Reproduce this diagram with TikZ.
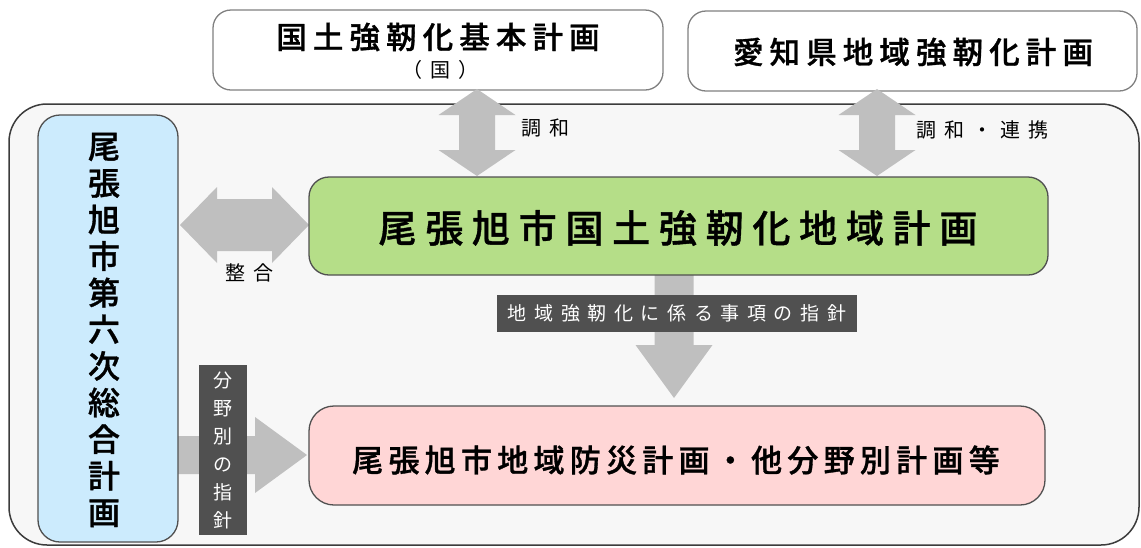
\documentclass[tikz,border=0pt]{standalone}
\usepackage{fontspec}
\newfontfamily\jp{Noto Sans CJK JP}
\newfontfamily\jpm[FakeBold=1]{Noto Sans CJK JP Medium}
\newfontfamily\jpwide[LetterSpace=20,FakeBold=1]{Noto Sans CJK JP Medium}
\newfontfamily\jpwidea[LetterSpace=23,FakeBold=1]{Noto Sans CJK JP Medium}
\newfontfamily\jpwideb[LetterSpace=17,FakeBold=1]{Noto Sans CJK JP Medium}
\newfontfamily\jplab[LetterSpace=40]{Noto Sans CJK JP}
\definecolor{framefill}{RGB}{247,247,247}
\definecolor{framedraw}{RGB}{60,60,60}
\definecolor{topdraw}{RGB}{128,128,128}
\definecolor{bluefill}{RGB}{204,235,253}
\definecolor{greenfill}{RGB}{181,222,136}
\definecolor{pinkfill}{RGB}{255,214,214}
\definecolor{boxdraw}{RGB}{80,80,80}
\definecolor{arrowgray}{RGB}{191,191,191}
\definecolor{labelfill}{RGB}{80,80,80}
\begin{document}
\begin{tikzpicture}[x=1pt,y=-1pt,
  topbox/.style={draw=topdraw,line width=1.3pt,fill=white,rounded corners=18pt,inner sep=0pt},
  framebox/.style={draw=framedraw,line width=1.5pt,fill=framefill,rounded corners=38pt,inner sep=0pt},
  planbox/.style={draw=boxdraw,line width=1.3pt,rounded corners=22pt,inner sep=0pt},
  darklabel/.style={fill=labelfill,text=white,inner sep=0pt},
  bigtext/.style={font=\fontsize{30.5}{30.5}\selectfont\jpwide},
  smalltext/.style={font=\fontsize{20}{20}\selectfont\jplab},
  blockarrow/.style={fill=arrowgray},
]
\useasboundingbox (0,0) rectangle (1141,547);

% outer frame
\node[framebox,minimum width=1130pt,minimum height=441pt] (frame) at (574,324.5) {};

% top boxes
\node[topbox,minimum width=450pt,minimum height=80pt] (kuni) at (438,50) {};
\node[bigtext] (kunitext) at (438,37) {国土強靭化基本計画};
\node[font=\fontsize{20}{20}\selectfont\jplab] (kunisub) at (440,70) {（国）};
\node[topbox,minimum width=449pt,minimum height=80pt] (aichi) at (912.5,51) {};
\node[bigtext] (aichitext) at (913,52) {愛知県地域強靭化計画};

% block arrows
\fill[blockarrow] (477,89) -- (515.5,115) -- (495,115) -- (495,150) -- (515.5,150) -- (477,176)
  -- (438.5,150) -- (459,150) -- (459,115) -- (438.5,115) -- cycle;
\fill[blockarrow] (877,89) -- (915.5,115) -- (895,115) -- (895,150) -- (915.5,150) -- (877,176)
  -- (838.5,150) -- (859,150) -- (859,115) -- (838.5,115) -- cycle;
\fill[blockarrow] (180,225) -- (217,187) -- (217,199) -- (272,199) -- (272,187) -- (309,225)
  -- (272,263) -- (272,251) -- (217,251) -- (217,263) -- cycle;
\fill[blockarrow] (654.5,270) -- (693.5,270) -- (693.5,345) -- (712.5,345) -- (674,398)
  -- (635.5,345) -- (654.5,345) -- cycle;
\fill[blockarrow] (175,436) -- (255,436) -- (255,417) -- (307,455) -- (255,493) -- (255,474)
  -- (175,474) -- cycle;

% arrow labels
\node[smalltext,anchor=west] (chowa) at (518,128) {調和};
\node[smalltext,anchor=west] (renkei) at (913,130) {調和・連携};
\node[smalltext] (seigo) at (249,273) {整合};

% plan boxes
\node[planbox,fill=bluefill,minimum width=140pt,minimum height=427pt] (sogo) at (108,328.5) {};
\node[font=\fontsize{32}{36.6}\selectfont\jpm,align=center] (sogotext) at (104,330)
  {尾\\張\\旭\\市\\第\\六\\次\\総\\合\\計\\画};
\node[planbox,fill=greenfill,rounded corners=20pt,minimum width=739pt,minimum height=98pt] (chiiki) at (678.5,226) {};
\node[font=\fontsize{38}{38}\selectfont\jpwidea] (chiikitext) at (678,228) {尾張旭市国土強靭化地域計画};
\node[planbox,fill=pinkfill,rounded corners=25pt,minimum width=736pt,minimum height=99pt] (bosai) at (677,455.5) {};
\node[font=\fontsize{31}{31}\selectfont\jpwideb] (bosaitext) at (676,460) {尾張旭市地域防災計画・他分野別計画等};

% dark labels
\node[darklabel,minimum width=360pt,minimum height=37pt,font=\fontsize{19}{19}\selectfont\jplab] (shishin) at (677,313.5) {地域強靭化に係る事項の指針};
\node[darklabel,minimum width=48pt,minimum height=170pt,align=center,font=\fontsize{19}{28}\selectfont\jp] (bunya) at (223,450) {分\\野\\別\\の\\指\\針};
\end{tikzpicture}
\end{document}
